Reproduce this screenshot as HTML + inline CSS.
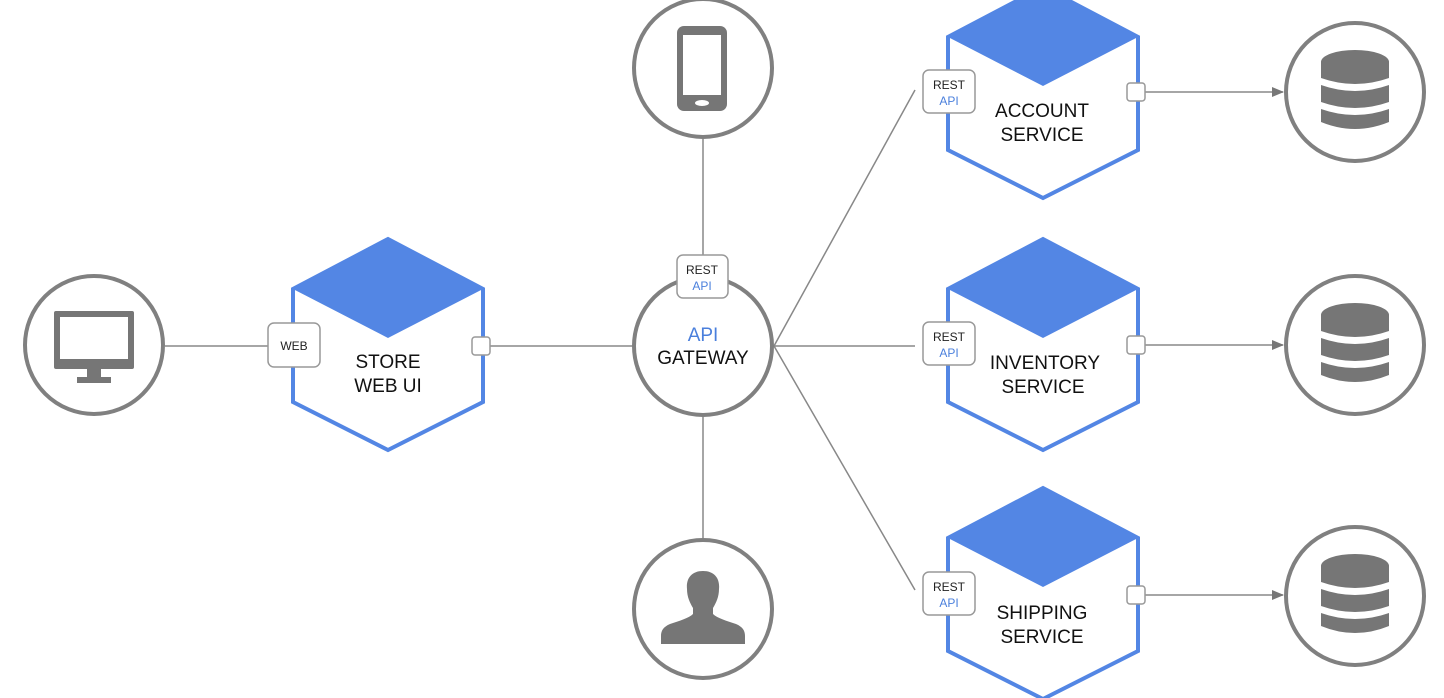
<!DOCTYPE html>
<html><head><meta charset="utf-8"><style>
html,body{margin:0;padding:0;background:#fff;width:1444px;height:698px;overflow:hidden}
svg text{font-family:"Liberation Sans",Arial,sans-serif}
</style></head><body>
<svg width="1444" height="698" viewBox="0 0 1444 698" xmlns="http://www.w3.org/2000/svg">
<defs>
<marker id="ar" markerWidth="12" markerHeight="10" refX="11" refY="5" orient="auto" markerUnits="userSpaceOnUse">
<path d="M0,0 L12,5 L0,10 Z" fill="#777"/></marker>
<g id="db" fill="#767676">
<ellipse cx="0" cy="-30" rx="34" ry="12"/>
<path d="M-34,-30 L-34,-14 Q0,-2 34,-14 L34,-30 Z"/>
<path d="M-34,-7 Q0,5 34,-7 L34,10 Q0,22 -34,10 Z"/>
<path d="M-34,17 Q0,29 34,17 L34,30 Q0,44 -34,30 Z"/>
</g>
</defs>
<g stroke="#888" stroke-width="1.5" fill="none">
<line x1="165" y1="346" x2="268" y2="346"/>
<line x1="490" y1="346" x2="632" y2="346"/>
<line x1="703" y1="138" x2="703" y2="255"/>
<line x1="703" y1="416" x2="703" y2="540"/>
<line x1="774" y1="346" x2="915" y2="90"/>
<line x1="774" y1="346" x2="915" y2="346"/>
<line x1="774" y1="346" x2="915" y2="590"/>
<line x1="1145" y1="92" x2="1283" y2="92" marker-end="url(#ar)"/>
<line x1="1145" y1="345" x2="1283" y2="345" marker-end="url(#ar)"/>
<line x1="1145" y1="595" x2="1283" y2="595" marker-end="url(#ar)"/>
</g>
<g stroke="#808080" stroke-width="4" fill="#fff">
<circle cx="94" cy="345" r="69"/>
<circle cx="703" cy="68" r="69"/>
<circle cx="703" cy="346" r="69"/>
<circle cx="703" cy="609" r="69"/>
<circle cx="1355" cy="92" r="69"/>
<circle cx="1355" cy="345" r="69"/>
<circle cx="1355" cy="596" r="69"/>
</g>
<rect x="54" y="311" width="80" height="58" rx="2" fill="#767676"/>
<rect x="60" y="317" width="68" height="42" fill="#fff"/>
<rect x="87" y="369" width="14" height="9" fill="#767676"/>
<rect x="77" y="377" width="34" height="6" fill="#767676"/>
<rect x="677" y="26" width="50" height="85" rx="7" fill="#767676"/>
<rect x="683" y="35" width="38" height="60" fill="#fff"/>
<ellipse cx="702" cy="103" rx="7" ry="3" fill="#fff"/>
<path d="M703,571 c-12,0 -17,8 -16,18 c0,8 3,14 6,19 l0,6 c-4,4 -14,7 -23,10 c-7,3 -9,7 -9,12 l0,8 l84,0 l0,-8 c0,-5 -2,-9 -9,-12 c-9,-3 -19,-6 -23,-10 l0,-6 c3,-5 6,-11 6,-19 c1,-10 -4,-18 -16,-18 z" fill="#767676"/>
<use href="#db" transform="translate(1355,92)"/>
<use href="#db" transform="translate(1355,345)"/>
<use href="#db" transform="translate(1355,596)"/>
<g stroke="#5386e4" stroke-width="4" fill="#fff" stroke-linejoin="miter">
<polygon points="388,239 483,289 483,402 388,450 293,402 293,289"/>
<polygon points="1043,-13 1138,37 1138,150 1043,198 948,150 948,37"/>
<polygon points="1043,239 1138,289 1138,402 1043,450 948,402 948,289"/>
<polygon points="1043,488 1138,538 1138,651 1043,699 948,651 948,538"/>
</g>
<g fill="#5386e4">
<polygon points="388,239 483,289 388,338 293,289"/>
<polygon points="1043,-13 1138,37 1043,86 948,37"/>
<polygon points="1043,239 1138,289 1043,338 948,289"/>
<polygon points="1043,488 1138,538 1043,587 948,538"/>
</g>
<g fill="#fff" stroke="#999" stroke-width="1.5">
<rect x="472" y="337" width="18" height="18" rx="3"/>
<rect x="1127" y="83" width="18" height="18" rx="3"/>
<rect x="1127" y="336" width="18" height="18" rx="3"/>
<rect x="1127" y="586" width="18" height="18" rx="3"/>
<rect x="268" y="323" width="52" height="44" rx="6"/>
<rect x="677" y="255" width="51" height="43" rx="6"/>
<rect x="923" y="70" width="52" height="43" rx="6"/>
<rect x="923" y="322" width="52" height="43" rx="6"/>
<rect x="923" y="572" width="52" height="43" rx="6"/>
</g>
<g font-size="12" text-anchor="middle">
<text x="294" y="350" fill="#222">WEB</text>
<text x="702" y="274" fill="#222">REST</text><text x="702" y="290" fill="#4a7fdc">API</text>
<text x="949" y="89" fill="#222">REST</text><text x="949" y="105" fill="#4a7fdc">API</text>
<text x="949" y="341" fill="#222">REST</text><text x="949" y="357" fill="#4a7fdc">API</text>
<text x="949" y="591" fill="#222">REST</text><text x="949" y="607" fill="#4a7fdc">API</text>
</g>
<g font-size="19" text-anchor="middle" fill="#111">
<text x="388" y="368">STORE</text><text x="388" y="392">WEB UI</text>
<text x="703" y="341" fill="#4a7fdc">API</text><text x="703" y="364">GATEWAY</text>
<text x="1042" y="117">ACCOUNT</text><text x="1042" y="141">SERVICE</text>
<text x="1045" y="369">INVENTORY</text><text x="1043" y="393">SERVICE</text>
<text x="1042" y="619">SHIPPING</text><text x="1042" y="643">SERVICE</text>
</g>
</svg>
</body></html>
